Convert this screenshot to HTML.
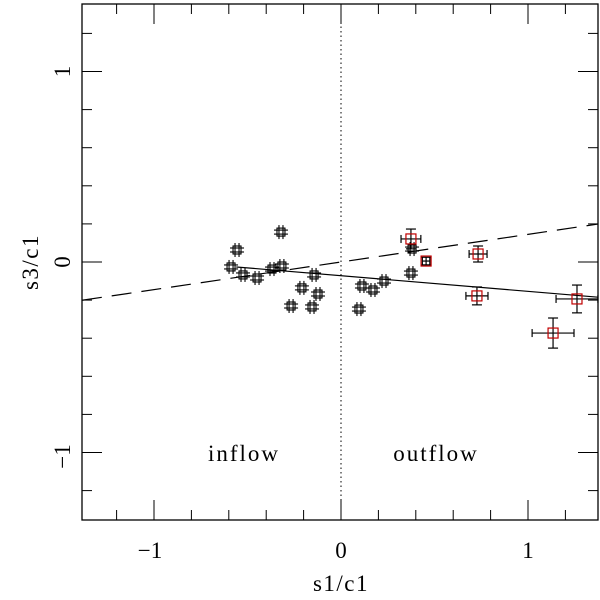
<!DOCTYPE html>
<html><head><meta charset="utf-8"><style>body{margin:0;background:#fff}svg{display:block}text{font-family:"Liberation Serif",serif;fill:#000}</style></head>
<body>
<svg id="chart" width="600" height="600" xmlns="http://www.w3.org/2000/svg"></svg>
<script>
const blackX=[-0.556,-0.588,-0.524,-0.449,-0.369,-0.316,-0.321,-0.144,-0.209,-0.123,-0.267,-0.155,0.096,0.112,0.171,0.230,0.374,0.380];
const blackY=[0.063,-0.026,-0.068,-0.084,-0.037,-0.021,0.157,-0.068,-0.136,-0.168,-0.231,-0.236,-0.247,-0.126,-0.147,-0.100,-0.058,0.068];
const redX=[0.374,0.455,0.733,0.727,1.262,1.134];
const redY=[0.121,0.005,0.042,-0.178,-0.194,-0.373];
const redEx=[0.053,0.02,0.048,0.059,0.112,0.112];
const redEy=[0.052,0.02,0.042,0.047,0.073,0.079];
const solidFit=[-0.072,-0.082]; // intercept, slope
const dashFit=[0,0.145];
const xTicks=[-1,0,1];
const yTicks=[-1,0,1];
const X0=341,XS=187,Y0=262,YS=190.5,L=82,R=598,T=4,B=520;
const xmin=(L-X0)/XS,xmax=(R-X0)/XS,ymin=(Y0-B)/YS,ymax=(Y0-T)/YS;
const sx=v=>X0+v*XS, sy=v=>Y0-v*YS;
const svg=document.getElementById('chart');
const NS='http://www.w3.org/2000/svg';
function mk(tag,attrs,parent){const e=document.createElementNS(NS,tag);for(const k in attrs)e.setAttribute(k,attrs[k]);(parent||svg).appendChild(e);return e;}
let f=mk('rect',{x:L,y:T,width:R-L,height:B-T,fill:'none',stroke:'#000','stroke-width':1.3});


const tg=mk('g',{stroke:'#000','stroke-width':1});


for(let i=-7;i<=7;i++){const v=i*0.2;const maj=i%5===0;const len=maj?20:10;
 if(v>xmin&&v<xmax){const x=sx(v);mk('line',{x1:x,y1:B,x2:x,y2:B-len},tg);mk('line',{x1:x,y1:T,x2:x,y2:T+len},tg);}
 if(v>ymin&&v<ymax){const y=sy(v);mk('line',{x1:L,y1:y,x2:L+len,y2:y},tg);mk('line',{x1:R,y1:y,x2:R-len,y2:y},tg);}
}
xTicks.forEach(v=>{const t=mk('text',{x:sx(v)-(v<0?4:0),y:558,'font-size':23,'text-anchor':'middle'});t.textContent=v<0?'\u22121':String(v);
 
 });
yTicks.forEach(v=>{const t=mk('text',{x:0,y:0,'font-size':23,'text-anchor':'middle',transform:`translate(70,${sy(v)+(v<0?4:0)}) rotate(-90)`});t.textContent=v<0?'\u22121':String(v);
 
 });
let xl=mk('text',{x:341,y:591,'font-size':23,'text-anchor':'middle','letter-spacing':1.5});xl.textContent='s1/c1';


let yl=mk('text',{x:0,y:0,'font-size':23,'text-anchor':'middle','letter-spacing':1.5,transform:'translate(38,262) rotate(-90)'});yl.textContent='s3/c1';


let zl=mk('line',{x1:sx(0),y1:T,x2:sx(0),y2:B,stroke:'#000','stroke-width':1,'stroke-dasharray':'1.5,3'});


let sl=mk('line',{x1:sx(-0.56),y1:sy(solidFit[0]+solidFit[1]*-0.56),x2:R,y2:sy(solidFit[0]+solidFit[1]*xmax),stroke:'#000','stroke-width':1.2});


let dl=mk('line',{x1:L,y1:sy(dashFit[0]+dashFit[1]*xmin),x2:R,y2:sy(dashFit[0]+dashFit[1]*xmax),stroke:'#000','stroke-width':1.2,'stroke-dasharray':'20,10'});


blackX.forEach((v,i)=>{const g=mk('g',{stroke:'#000','stroke-width':1.1,fill:'none'});
 
 
 const x=sx(v),y=sy(blackY[i]);
 mk('rect',{x:x-4,y:y-4,width:8,height:8},g);
 mk('line',{x1:x-2,y1:y-7,x2:x-2,y2:y+7},g);mk('line',{x1:x+2,y1:y-7,x2:x+2,y2:y+7},g);
 mk('line',{x1:x-7,y1:y-2,x2:x+7,y2:y-2},g);mk('line',{x1:x-7,y1:y+2,x2:x+7,y2:y+2},g);
});
redX.forEach((v,i)=>{const g=mk('g',{'stroke-width':1.2,fill:'none'});
 
 
 const x=sx(v),y=sy(redY[i]),ex=redEx[i]*XS,ey=redEy[i]*YS;
 mk('line',{x1:x-ex,y1:y,x2:x+ex,y2:y,stroke:'#000'},g);mk('line',{x1:x,y1:y-ey,x2:x,y2:y+ey,stroke:'#000'},g);
 mk('line',{x1:x-ex,y1:y-4,x2:x-ex,y2:y+4,stroke:'#000'},g);mk('line',{x1:x+ex,y1:y-4,x2:x+ex,y2:y+4,stroke:'#000'},g);
 mk('line',{x1:x-5,y1:y-ey,x2:x+5,y2:y-ey,stroke:'#000'},g);mk('line',{x1:x-5,y1:y+ey,x2:x+5,y2:y+ey,stroke:'#000'},g);
 mk('rect',{x:x-5,y:y-5,width:10,height:10,stroke:'#c00000'},g);
});
let t1=mk('text',{x:244,y:461,'font-size':23,'text-anchor':'middle','letter-spacing':2});t1.textContent='inflow';


let t2=mk('text',{x:436,y:461,'font-size':23,'text-anchor':'middle','letter-spacing':2});t2.textContent='outflow';


</script>
</body></html>
